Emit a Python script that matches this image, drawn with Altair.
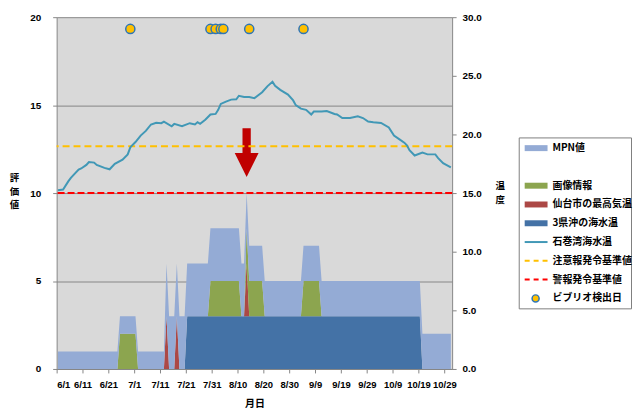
import altair as alt
import pandas as pd

# ---------------- data ----------------
N_DAYS = 153  # 6/1 .. 10/31
tick_days = list(range(0, 151, 10))
tick_labels = ['6/1', '6/11', '6/21', '7/1', '7/11', '7/21', '7/31', '8/10',
               '8/20', '8/30', '9/9', '9/19', '9/29', '10/9', '10/19', '10/29']

# stacked evaluation-value components, one value per day (6/1 .. 10/31)
mpn = [1] * 42 + [3] * 31 + [2] * 80
gazou = [0] * 24 + [2] * 7 + [0] * 28 + [2] * 12 + [0] * 2 + [2] * 7 + [0] * 15 + [2] * 7 + [0] * 51
sendai = [0] * 42 + [3] + [0] * 3 + [3] + [0] * 26 + [3] + [0] * 79
sanken = [0] * 50 + [3] * 91 + [0] * 12

# Ishinomaki bay sea temperature (right axis)
temp_days = [0, 2, 4, 5, 8, 9, 11, 12, 14, 15, 18, 20, 22, 25, 27, 28, 30, 32, 34, 36,
             38, 40, 41, 44, 45, 48, 51, 53, 54, 55, 57, 59, 61, 62, 63, 65, 67, 69, 70, 72,
             74, 76, 79, 81, 83, 84, 86, 89, 91, 92, 94, 96, 98, 99, 102, 104, 107, 108, 110, 113,
             116, 118, 120, 122, 125, 128, 130, 132, 134, 135, 136, 138, 141, 143, 146, 147, 149, 152]
temp_vals = [15.25, 15.3, 16.0, 16.3, 17.0, 17.1, 17.4, 17.65, 17.6, 17.4, 17.15, 17.03, 17.5, 17.85,
             18.3, 18.9, 19.35, 19.9, 20.3, 20.85, 21.0, 20.96, 21.1, 20.7, 20.9, 20.7, 20.96, 20.85,
             21.04, 20.9, 21.25, 21.7, 21.75, 22.1, 22.6, 22.8, 22.97, 23.0, 23.3, 23.2, 23.2, 23.1,
             23.6, 24.1, 24.5, 24.15, 23.8, 23.4, 22.9, 22.5, 22.2, 22.1, 21.7, 21.95, 21.95, 22.0,
             21.75, 21.7, 21.4, 21.4, 21.55, 21.4, 21.1, 21.04, 20.98, 20.6, 19.9, 19.6, 19.3, 19.07,
             18.65, 18.2, 18.45, 18.3, 18.3, 18.0, 17.55, 17.2]

vibrio_days = [28, 59, 61, 63, 64, 74, 95]
vibrio_level = 29.0

caution_level = 19.0   # 注意報発令基準値 (right axis)
warning_level = 15.0   # 警報発令基準値 (right axis)

arrow_day = [73]
arrow_value = [12.3]

series_names = ['3県沖の海水温', '仙台市の最高気温', '画像情報', 'MPN値']
series_colors = ['#4472A6', '#AC4845', '#8CA54F', '#94ABD5']

legend_labels = ['MPN値', '', '画像情報', '仙台市の最高気温', '3県沖の海水温',
                 '石巻湾海水温', '注意報発令基準値', '警報発令基準値', 'ビブリオ検出日']

TEAL = '#4198B6'
ORANGE = '#FFC000'
RED = '#FF0000'
GRID = '#868686'
LAT = 'Liberation Sans'
JP = 'Noto Sans CJK JP'

# ---------------- tables ----------------
rows = []
for o, (name, vals) in enumerate(zip(series_names, [sanken, sendai, gazou, mpn])):
    for d, v in enumerate(vals):
        rows.append({'day': d, 'series': name, 'ord': o, 'value': v})
area_df = pd.DataFrame(rows)
temp_df = pd.DataFrame({'day': temp_days, 'temp': temp_vals})
vib_df = pd.DataFrame({'day': vibrio_days, 'temp': [vibrio_level] * len(vibrio_days)})
caution_df = pd.DataFrame({'temp': [caution_level]})
warning_df = pd.DataFrame({'temp': [warning_level]})
arrow_df = pd.DataFrame({'day': arrow_day, 'value': arrow_value})
legend_df = pd.DataFrame({'row': list(range(len(legend_labels))), 'label': legend_labels})

# ---------------- scales / axes ----------------
x_scale = alt.Scale(domain=[0, N_DAYS], nice=False, zero=False)
label_expr = '[' + ','.join("'%s'" % t for t in tick_labels) + '][round(datum.value/10)]'
x_axis = alt.Axis(values=tick_days, labelExpr=label_expr, title='月日',
                  labelFont=LAT, labelFontSize=9.5, labelFontWeight='bold', labelColor='black',
                  labelFlush=5, labelOverlap=False, labelPadding=7, tickSize=4,
                  tickColor=GRID, domainColor=GRID, grid=False,
                  titleFont=JP, titleFontSize=10, titleFontWeight='bold', titleColor='black',
                  titlePadding=9)
yl_scale = alt.Scale(domain=[0, 20], nice=False)
yl_axis = alt.Axis(values=[0, 5, 10, 15, 20], title=['評', '価', '値'], titleAngle=0,
                   titleAlign='center', titleBaseline='top', titleX=-43, titleY=156,
                   titleFont=JP, titleFontSize=9.5, titleFontWeight='bold', titleColor='black',
                   titleLineHeight=14,
                   labelFont=LAT, labelFontSize=10, labelFontWeight='bold', labelColor='black',
                   labelPadding=12, tickSize=4, tickColor=GRID, domainColor=GRID,
                   grid=True, gridColor=GRID, gridWidth=1)
yr_scale = alt.Scale(domain=[0, 30], nice=False)
yr_axis = alt.Axis(orient='right', values=[0, 5, 10, 15, 20, 25, 30], format='.1f',
                   title=['温', '度'], titleAngle=0, titleAlign='center', titleBaseline='top',
                   titleX=48, titleY=164, titleFont=JP, titleFontSize=9.5, titleFontWeight='bold',
                   titleColor='black', titleLineHeight=14,
                   labelFont=LAT, labelFontSize=10, labelFontWeight='bold', labelColor='black',
                   labelPadding=6, tickSize=4, tickColor=GRID, domainColor=GRID, grid=False)

X = alt.X('x:Q', scale=x_scale, axis=x_axis)
calc = dict(x='datum.day + 0.5')

areas = alt.Chart(area_df).transform_calculate(**calc).mark_area(interpolate='linear').encode(
    x=X,
    y=alt.Y('value:Q', stack='zero', scale=yl_scale, axis=yl_axis),
    color=alt.Color('series:N', scale=alt.Scale(domain=series_names, range=series_colors), legend=None),
    order=alt.Order('ord:Q', sort='ascending'),
)

arrow_path = 'M-0.17,-1L0.17,-1L0.17,0.02L0.49,0.02L0,1L-0.49,0.02L-0.17,0.02Z'
arrow = alt.Chart(arrow_df).transform_calculate(**calc).mark_point(
    shape=arrow_path, size=2401, filled=True, color='#C00000', opacity=1, strokeWidth=0
).encode(x=X, y=alt.Y('value:Q', scale=yl_scale, axis=yl_axis))

left_group = alt.layer(areas, arrow)

line = alt.Chart(temp_df).transform_calculate(**calc).mark_line(color=TEAL, strokeWidth=2).encode(
    x=X, y=alt.Y('temp:Q', scale=yr_scale, axis=yr_axis))
caution = alt.Chart(caution_df).mark_rule(color=ORANGE, strokeWidth=2, strokeDash=[7, 4]).encode(
    y=alt.Y('temp:Q', scale=yr_scale, axis=yr_axis))
warning = alt.Chart(warning_df).mark_rule(color=RED, strokeWidth=2, strokeDash=[7, 3]).encode(
    y=alt.Y('temp:Q', scale=yr_scale, axis=yr_axis))
points = alt.Chart(vib_df).transform_calculate(**calc).mark_point(
    shape='circle', filled=True, fill=ORANGE, stroke='#2E75B6', strokeWidth=1.5, size=85, opacity=1
).encode(x=X, y=alt.Y('temp:Q', scale=yr_scale, axis=yr_axis))

right_group = alt.layer(caution, warning, line, points)

main = alt.layer(left_group, right_group).resolve_scale(y='independent').properties(
    width=398, height=354, view=alt.ViewBackground(fill='#D9D9D9', stroke='transparent'))

# ---------------- legend panel ----------------
LY = alt.Y('row:Q', scale=alt.Scale(domain=[-0.57, 8.53], reverse=True), axis=None)
lbase = alt.Chart(legend_df)
l_rects = lbase.transform_filter('datum.row==0 || (datum.row>=2 && datum.row<=4)').mark_rule(
    strokeWidth=6, strokeCap='butt').encode(
    x=alt.value(6), x2=alt.value(29), y=LY,
    color=alt.Color('label:N', scale=alt.Scale(domain=[legend_labels[0]] + legend_labels[2:5],
                                               range=['#94ABD5', '#8CA54F', '#AC4845', '#4472A6']),
                    legend=None))
l_teal = lbase.transform_filter('datum.row==5').mark_rule(strokeWidth=2, color=TEAL).encode(
    x=alt.value(6), x2=alt.value(29), y=LY)
l_orange = lbase.transform_filter('datum.row==6').mark_rule(strokeWidth=2, color=ORANGE,
                                                            strokeDash=[5, 4]).encode(
    x=alt.value(6), x2=alt.value(29), y=LY)
l_red = lbase.transform_filter('datum.row==7').mark_rule(strokeWidth=2, color=RED,
                                                         strokeDash=[5, 4]).encode(
    x=alt.value(6), x2=alt.value(29), y=LY)
l_circle = lbase.transform_filter('datum.row==8').mark_point(
    shape='circle', filled=True, fill=ORANGE, stroke='#2E75B6', strokeWidth=1.5, size=50, opacity=1
).encode(x=alt.value(17), y=LY)
l_text = lbase.mark_text(align='left', baseline='middle', font=JP, fontSize=10,
                         fontWeight='bold', color='black').encode(
    x=alt.value(34), y=LY, text='label:N')

legend = alt.layer(l_rects, l_teal, l_orange, l_red, l_circle, l_text).properties(
    width=113, height=172, view=alt.ViewBackground(fill='white', stroke='#7F7F7F', strokeWidth=1))

spacer = alt.Chart(pd.DataFrame({'a': [0]})).mark_point(opacity=0).encode(
    x=alt.X('a:Q', axis=None), y=alt.Y('a:Q', axis=None)).properties(
    width=113, height=119, view=alt.ViewBackground(fill='transparent', stroke='transparent'))

chart = alt.hconcat(main, alt.vconcat(spacer, legend, spacing=0), spacing=12).properties(
    padding={'left': 8, 'top': 10, 'right': 0, 'bottom': 0}
).configure(background='white')

chart.save('out.html', embed_options={'renderer': 'svg', 'actions': False})
